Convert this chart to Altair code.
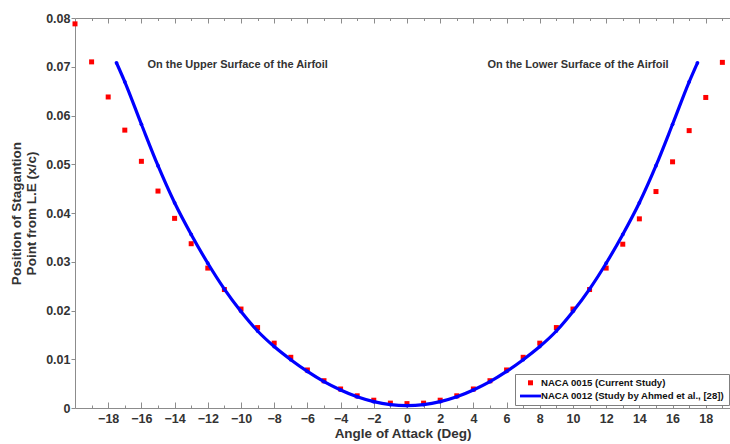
import altair as alt
import pandas as pd

# ---- data ----
red_aoa = [-20, -19, -18, -17, -16, -15, -14, -13, -12, -11, -10, -9, -8, -7, -6, -5, -4, -3, -2, -1,
           0, 1, 2, 3, 4, 5, 6, 7, 8, 9, 10, 11, 12, 13, 14, 15, 16, 17, 18, 19]
red_pos = [0.0788, 0.0710, 0.0638, 0.0570, 0.0506, 0.0445, 0.0389, 0.0337, 0.0287, 0.0243,
           0.0203, 0.0165, 0.0133, 0.0104, 0.0078, 0.0056, 0.0039, 0.0025, 0.0016, 0.0010,
           0.0009, 0.0010, 0.0016, 0.0025, 0.0039, 0.0056, 0.0078, 0.0104, 0.0133, 0.0165,
           0.0203, 0.0243, 0.0287, 0.0336, 0.0388, 0.0444, 0.0505, 0.0569, 0.0637, 0.0709]

blue_aoa = [-17.5, -17, -16, -15, -14, -13, -12, -11, -10, -9, -8, -7, -6, -5, -4, -3, -2, -1,
            0, 1, 2, 3, 4, 5, 6, 7, 8, 9, 10, 11, 12, 13, 14, 15, 16, 17, 17.5]
blue_pos = [0.0708, 0.0669, 0.0582, 0.0497, 0.0421, 0.0356, 0.0297, 0.0244, 0.0198, 0.0158,
            0.0126, 0.0099, 0.0075, 0.0054, 0.0037, 0.0023, 0.0013, 0.0007,
            0.0005, 0.0007, 0.0013, 0.0023, 0.0037, 0.0054, 0.0075, 0.0099, 0.0126, 0.0158,
            0.0198, 0.0244, 0.0297, 0.0356, 0.0421, 0.0497, 0.0582, 0.0669, 0.0708]

series_names = ["NACA 0015 (Current Study)", "NACA 0012 (Study by Ahmed et al., [28])"]
series_colors = ["#ff0000", "#0000ff"]

x_major = [-18, -16, -14, -12, -10, -8, -6, -4, -2, 0, 2, 4, 6, 8, 10, 12, 14, 16, 18]
x_minor = [-19, -17, -15, -13, -11, -9, -7, -5, -3, -1, 1, 3, 5, 7, 9, 11, 13, 15, 17, 19]
y_ticks = [0, 0.01, 0.02, 0.03, 0.04, 0.05, 0.06, 0.07, 0.08]

notes = ["On the Upper Surface of the Airfoil", "On the Lower Surface of the Airfoil"]
note_x = [-10.2, 10.3]
note_y = [0.0703, 0.0703]

red_df = pd.DataFrame({"aoa": red_aoa, "pos": red_pos, "series": series_names[0]})
blue_df = pd.DataFrame({"aoa": blue_aoa, "pos": blue_pos})
note_df = pd.DataFrame({"text": notes, "aoa": note_x, "pos": note_y})

FONT = "Liberation Sans, Arial, sans-serif"
AX = "#8c8c8c"
TXT = "#333333"
W, H = 655, 390

xs = alt.Scale(domain=[-20, 19.46], nice=False, zero=False)
ys = alt.Scale(domain=[0, 0.08], nice=False, zero=False)

y_axis = alt.Axis(
    orient="left", values=y_ticks, tickSize=4, tickColor=AX, domainColor=AX, grid=False,
    labelExpr="datum.value == 0 ? '0' : format(datum.value, '.2f')",
    labelFont=FONT, labelFontSize=12.5, labelFontWeight="bold", labelColor=TXT,
    labelPadding=1,
    title=["Position of Stagantion", "Point from L.E (x/c)"],
    titleFont=FONT, titleFontSize=13.5, titleFontWeight="bold", titleColor=TXT,
    titleLineHeight=15, titlePadding=7)

Y = alt.Y("pos:Q", scale=ys, axis=y_axis)

# main points + labelled bottom axis
red = alt.Chart(red_df).mark_point(filled=True, opacity=1).encode(
    x=alt.X("aoa:Q", scale=xs, axis=alt.Axis(
        orient="bottom", values=x_major, ticks=False, domain=True, domainColor=AX,
        labelFont=FONT, labelFontSize=12.5, labelFontWeight="bold", labelColor=TXT,
        labelPadding=4, grid=False, title="Angle of Attack (Deg)",
        titleFont=FONT, titleFontSize=13.5, titleFontWeight="bold", titleColor=TXT,
        titlePadding=2)),
    y=Y,
    color=alt.Color("series:N", scale=alt.Scale(domain=series_names, range=series_colors),
                    legend=alt.Legend(
                        title=None, orient="none", legendX=440, legendY=356,
                        labelFont=FONT, labelFontSize=9.6, labelFontWeight="bold",
                        labelColor="#111111", labelOffset=3.5, padding=4, rowPadding=1,
                        symbolOffset=4.5,
                        strokeColor="#7f7f7f", fillColor="white", symbolStrokeWidth=0,
                        labelLimit=400)),
    shape=alt.Shape("series:N", scale=alt.Scale(
        domain=series_names,
        range=["square", "M-1.5,-0.2H1.5V0.2H-1.5Z"])),
    size=alt.Size("series:N", type="ordinal", scale=alt.Scale(domain=series_names, range=[25, 196])),
)

blue = alt.Chart(blue_df).mark_line(
    color="#0000ff", strokeWidth=3.2, interpolate="monotone",
    point=alt.OverlayMarkDef(filled=True, color="#0000ff", size=14)
).encode(
    x=alt.X("aoa:Q", scale=xs, axis=None),
    y=Y,
)

def tick_layer(orient, values, size, domain):
    return alt.Chart(red_df).mark_point(opacity=0).encode(
        x=alt.X("aoa:Q", scale=xs, axis=alt.Axis(
            orient=orient, offset=-H, values=values, tickSize=size, tickColor=AX,
            labels=False, domain=domain, domainColor=AX, title=None, grid=False)),
        y=Y,
    )

bottom_major = tick_layer("top", x_major, 6, False)
bottom_minor = tick_layer("top", x_minor, 3, False)
top_major = tick_layer("bottom", x_major, 5, True)
top_minor = tick_layer("bottom", x_minor, 2.5, False)

text = alt.Chart(note_df).mark_text(
    font=FONT, fontSize=11, fontWeight="bold", color=TXT, align="center", baseline="middle"
).encode(
    x=alt.X("aoa:Q", scale=xs, axis=None),
    y=Y,
    text="text:N",
)

chart = alt.layer(
    red, blue, text, bottom_major, bottom_minor, top_major, top_minor
).resolve_axis(x="independent").properties(
    width=W, height=H,
    autosize=alt.AutoSizeParams(type="none"),
    padding={"left": 75, "top": 18, "right": 0, "bottom": 36},
    background="white",
).configure_view(stroke=None)

chart.save("out.html", embed_options={"renderer": "svg", "actions": False})
